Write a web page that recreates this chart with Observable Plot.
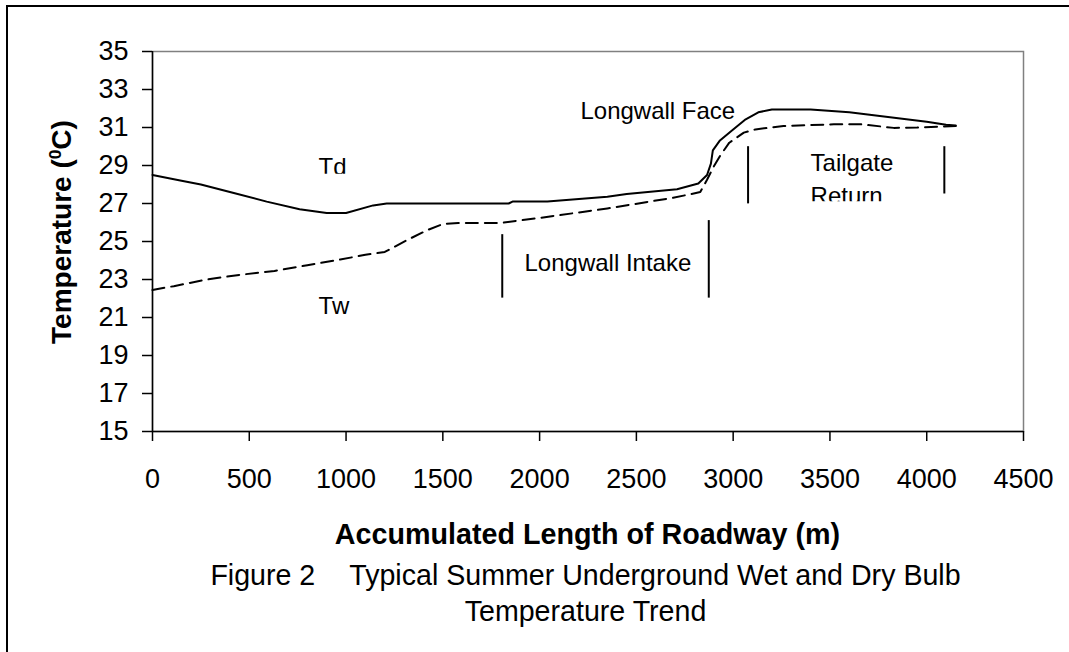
<!DOCTYPE html>
<html>
<head>
<meta charset="utf-8">
<script src="https://cdn.jsdelivr.net/npm/d3@7"></script>
<script src="https://cdn.jsdelivr.net/npm/@observablehq/plot@0.6"></script>
<style>
  html, body { margin: 0; padding: 0; background: #fff; }
  body { width: 1069px; height: 652px; position: relative; overflow: hidden;
         font-family: "Liberation Sans", Arial, sans-serif; color: #000; }
  #border { position: absolute; left: 6px; top: 4.5px; width: 1200px; height: 800px;
            border-left: 2px solid #000; border-top: 2px solid #000; z-index: 2; pointer-events: none; }
  #chart { position: absolute; left: 0; top: 0; }
  .ytitle { position: absolute; left: 62px; top: 232px; transform: translate(-50%, -50%) rotate(-90deg);
            font-weight: bold; font-size: 28px; line-height: 1; white-space: nowrap; }
  .ytitle sup { font-size: 0.62em; line-height: 0; vertical-align: 0.55em; }
  .xtitle { position: absolute; left: 152px; width: 871px; top: 520px; text-align: center;
            font-weight: bold; font-size: 28.7px; line-height: 1; white-space: nowrap; }
  .caption { position: absolute; left: 150px; width: 871px; top: 557px; text-align: center;
             font-size: 28.6px; line-height: 36px; white-space: nowrap; }
  .caption .gap { display: inline-block; width: 34px; }
</style>
</head>
<body>
<div id="border"></div>
<div id="chart"></div>
<div class="ytitle">Temperature (<sup>0</sup>C)</div>
<div class="xtitle">Accumulated Length of Roadway (m)</div>
<div class="caption">Figure 2<span class="gap"></span>Typical Summer Underground Wet and Dry Bulb<br>Temperature Trend</div>
<script>
// Dry bulb temperature Td (solid line)
const tdDist = [0, 150, 250, 420, 590, 760, 900, 1000, 1140, 1210, 1840, 1860, 2040, 2350, 2450, 2710, 2820, 2865, 2885, 2895, 2930, 3000, 3060, 3130, 3200, 3400, 3600, 3800, 4000, 4100, 4150];
const tdTemp = [28.5, 28.2, 28.0, 27.55, 27.1, 26.7, 26.5, 26.5, 26.9, 27.0, 27.0, 27.1, 27.1, 27.35, 27.5, 27.75, 28.05, 28.5, 29.1, 29.8, 30.3, 30.9, 31.4, 31.8, 31.95, 31.95, 31.8, 31.55, 31.3, 31.15, 31.1];

// Wet bulb temperature Tw (dashed line)
const twDist = [0, 110, 280, 455, 630, 800, 970, 1100, 1200, 1320, 1420, 1500, 1580, 1800, 2000, 2350, 2690, 2830, 2865, 2900, 2935, 2980, 3055, 3115, 3260, 3520, 3660, 3830, 3950, 4150];
const twTemp = [22.45, 22.65, 23.0, 23.25, 23.45, 23.75, 24.05, 24.3, 24.45, 25.1, 25.6, 25.92, 25.98, 25.98, 26.24, 26.74, 27.3, 27.6, 28.25, 28.95, 29.55, 30.2, 30.73, 30.9, 31.08, 31.17, 31.17, 30.98, 31.0, 31.08];

// Section divider markers
const markerX  = [1807, 2874, 3077, 4091];
const markerY1 = [25.36, 26.1, 29.99, 29.99];
const markerY2 = [22.02, 22.02, 26.98, 27.5];

// Annotations (x = start of text, y = baseline, clip = level below which the text box is cut)
const annLabel = ["Td", "Tw", "Longwall Face", "Longwall Intake", "Tailgate", "Return"];
const annX     = [858, 858, 2211, 1922, 3400, 3400];
const annY     = [28.49, 21.21, 31.45, 23.43, 28.7, 26.96];
const annClip  = [28.56, null, null, null, null, 27.12];

// Axis ticks
const xTicks = [0, 500, 1000, 1500, 2000, 2500, 3000, 3500, 4000, 4500];
const yTicks = [15, 17, 19, 21, 23, 25, 27, 29, 31, 33, 35];

const td = tdDist.map((d, i) => ({dist: d, temp: tdTemp[i]}));
const tw = twDist.map((d, i) => ({dist: d, temp: twTemp[i]}));
const markers = markerX.map((x, i) => ({x, y1: markerY1[i], y2: markerY2[i]}));
const anns = annLabel.map((t, i) => ({t, x: annX[i], y: annY[i]}));

const chart = Plot.plot({
  width: 1069,
  height: 500,
  marginLeft: 152,
  marginRight: 46,
  marginTop: 51,
  marginBottom: 69,
  x: {domain: [0, 4500]},
  y: {domain: [15, 35]},
  style: {fontFamily: "'Liberation Sans', Arial, sans-serif", fontSize: "27px", color: "#000", background: "none", overflow: "visible"},
  marks: [
    Plot.frame({stroke: "#808080", strokeWidth: 1.5}),
    Plot.axisX({ticks: xTicks, tickSize: 10, tickPadding: 27, tickFormat: d => String(d), label: null, strokeWidth: 1.5}),
    Plot.axisY({ticks: yTicks, tickSize: 10, tickPadding: 14, tickFormat: d => String(d), label: null, strokeWidth: 1.5}),
    Plot.ruleY([15], {stroke: "#000", strokeWidth: 1.5}),
    Plot.ruleX([0], {stroke: "#000", strokeWidth: 1.5}),
    Plot.line(td, {x: "dist", y: "temp", stroke: "#000", strokeWidth: 2}),
    Plot.line(tw, {x: "dist", y: "temp", stroke: "#000", strokeWidth: 2, strokeDasharray: "12,7"}),
    Plot.ruleX(markers, {x: "x", y1: "y1", y2: "y2", stroke: "#000", strokeWidth: 2}),
    Plot.text(anns, {x: "x", y: "y", text: "t", textAnchor: "start", lineAnchor: "bottom", fontSize: 24, fill: "#000", ariaLabel: "annotations"})
  ]
});
document.getElementById("chart").appendChild(chart);

// Emulate the clipped text boxes of the original
const yScale = chart.scale("y");
const svgns = "http://www.w3.org/2000/svg";
const defs = d3.select(chart).append("defs");
d3.select(chart).selectAll("text").each(function() {
  const idx = annLabel.indexOf(this.textContent);
  if (idx < 0 || annClip[idx] == null) return;
  const cy = yScale.apply(annClip[idx]);
  const id = "annclip" + idx;
  defs.append("clipPath").attr("id", id).attr("clipPathUnits", "userSpaceOnUse")
    .append("rect").attr("x", 0).attr("y", 0).attr("width", 1069).attr("height", cy);
  const g = document.createElementNS(svgns, "g");
  this.parentNode.insertBefore(g, this);
  g.appendChild(this);
  g.setAttribute("clip-path", `url(#${id})`);
});
</script>
</body>
</html>
